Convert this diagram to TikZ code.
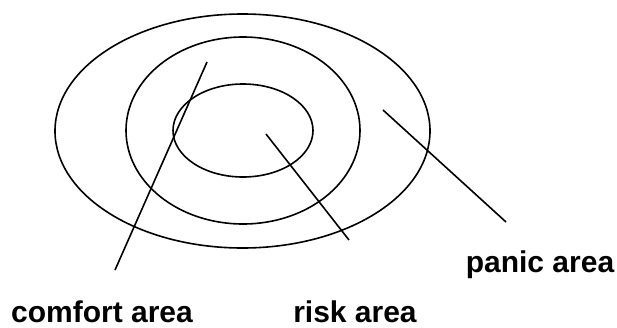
\documentclass[tikz,border=0pt]{standalone}
\usepackage{fontspec}
\setmainfont{Liberation Sans}
\begin{document}
\begin{tikzpicture}[x=1pt, y=-1pt, line width=1.6pt,
  arealabel/.style={font=\bfseries\fontsize{30}{36}\selectfont, inner sep=0pt, text depth=0pt, anchor=base}]
  \useasboundingbox (0,0) rectangle (617,327);
  % rings
  \draw (242.5,131) ellipse [x radius=187.5, y radius=117];
  \draw (243,130.5) ellipse [x radius=117, y radius=93.5];
  \draw (243,130.5) ellipse [x radius=70, y radius=46.5];
  % labels
  \node[arealabel] (comfort) at (102,322) {comfort area};
  \node[arealabel] (risk) at (355,322) {risk area};
  \node[arealabel] (panic) at (540,272) {panic area};
  % pointers
  \coordinate (comfortin) at (207,62);  \coordinate (comfortend) at (115,270);
  \coordinate (riskin) at (266,134);    \coordinate (riskend) at (349,240);
  \coordinate (panicin) at (383,110);   \coordinate (panicend) at (506,222);
  \draw (comfortin) -- (comfortend);
  \draw (riskin) -- (riskend);
  \draw (panicin) -- (panicend);
\end{tikzpicture}
\end{document}
